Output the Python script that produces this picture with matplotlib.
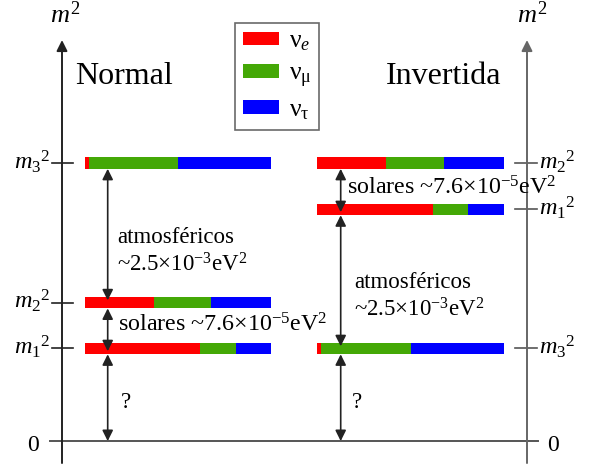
import matplotlib.pyplot as plt
from matplotlib.patches import Patch

plt.rcParams['font.family'] = 'Liberation Serif'
plt.rcParams['mathtext.fontset'] = 'custom'
plt.rcParams['mathtext.rm'] = 'Liberation Serif'
plt.rcParams['mathtext.it'] = 'Liberation Serif:italic'

# flavour content of each mass state (m1, m2, m3)
flavours = ['e', 'mu', 'tau']
nu_e = [0.62, 0.37, 0.02]
nu_mu = [0.19, 0.31, 0.48]
nu_tau = [0.19, 0.32, 0.50]
colors = ['#ff0000', '#44a806', '#0000ff']
legend_labels = [r'$\mathrm{\nu}_{e}$', r'$\mathrm{\nu}_{\mathrm{\mu}}$', r'$\mathrm{\nu}_{\mathrm{\tau}}$']

# schematic m^2 levels for m1, m2, m3 (not to scale)
normal_levels = [0.333, 0.498, 1.0]
inverted_levels = [0.833, 1.0, 0.333]
state_labels = [r'$m_{1}{}^{2}$', r'$m_{2}{}^{2}$', r'$m_{3}{}^{2}$']

solar_text = r'solares ~7.6$\times$10$^{-5}$eV$^{2}$'
atm_text = 'atmosféricos\n~2.5×10$^{-3}$eV$^{2}$'

fig = plt.figure(figsize=(6.01, 4.70), dpi=100)
ax = fig.add_axes([0, 0, 1, 1])
ax.set_xlim(0, 601)
ax.set_ylim(-0.104, 1.586)
ax.axis('off')

bar_h = 0.042


def draw_levels(levels, x0, x1):
    length = x1 - x0
    for i, y in enumerate(levels):
        left = x0
        for frac, c in zip((nu_e[i], nu_mu[i], nu_tau[i]), colors):
            ax.barh(y, frac * length, left=left, height=bar_h, color=c, linewidth=0)
            left += frac * length


def double_arrow(x, y_top, y_bot):
    ax.annotate('', xy=(x, y_bot), xytext=(x, y_top),
                arrowprops=dict(arrowstyle='<|-|>', color='#222222', lw=1.2,
                                mutation_scale=16, shrinkA=0, shrinkB=0))


draw_levels(normal_levels, 85, 271)
draw_levels(inverted_levels, 317, 504)

# axes of the two diagrams
ax.plot([50, 538], [0, 0], color='#555555', lw=1.4)
ax.annotate('', xy=(62, 1.442), xytext=(62, -0.079),
            arrowprops=dict(arrowstyle='-|>', color='#222222', lw=1.4,
                            mutation_scale=16, shrinkA=0, shrinkB=0))
ax.annotate('', xy=(527, 1.442), xytext=(527, -0.079),
            arrowprops=dict(arrowstyle='-|>', color='#666666', lw=1.4,
                            mutation_scale=16, shrinkA=0, shrinkB=0))
ax.text(65, 1.535, r'$m^{2}$', fontsize=19, ha='center', va='center')
ax.text(532, 1.535, r'$m^{2}$', fontsize=19, ha='center', va='center')

for y, lab in zip(normal_levels, state_labels):
    ax.plot([52, 73], [y, y], color='#222222', lw=1.2)
    ax.text(50, y + 0.005, lab, fontsize=17.5, ha='right', va='center')
for y, lab in zip(inverted_levels, state_labels):
    ax.plot([515, 537], [y, y], color='#555555', lw=1.2)
    ax.text(539, y + 0.005, lab, fontsize=17.5, ha='left', va='center')
ax.text(33, -0.016, '0', fontsize=17, ha='center', va='center')
ax.text(553, -0.016, '0', fontsize=17, ha='center', va='center')

ax.text(75, 1.31, 'Normal', fontsize=23, ha='left', va='center')
ax.text(386, 1.31, 'Invertida', fontsize=23, ha='left', va='center')

# normal ordering arrows
double_arrow(107.7, normal_levels[2] - bar_h / 2, normal_levels[1] + 0.008)
double_arrow(107.7, normal_levels[1] - bar_h / 2, normal_levels[0] - 0.01)
double_arrow(107.7, normal_levels[0] - bar_h / 2, 0)
ax.text(117, 0.68, atm_text, fontsize=16.5, ha='left', va='center', linespacing=1.3)
ax.text(118, 0.418, solar_text, fontsize=17.3, ha='left', va='center')
ax.text(126, 0.14, '?', fontsize=16.5, ha='center', va='center')

# inverted ordering arrows
double_arrow(340.7, inverted_levels[1] - bar_h / 2, inverted_levels[0] - 0.01)
double_arrow(340.7, inverted_levels[0] - bar_h / 2, inverted_levels[2] + 0.008)
double_arrow(340.7, inverted_levels[2] - bar_h / 2, 0)
ax.text(354, 0.52, atm_text, fontsize=16.5, ha='left', va='center', linespacing=1.3)
ax.text(347, 0.91, solar_text, fontsize=17.3, ha='left', va='center')
ax.text(357, 0.14, '?', fontsize=16.5, ha='center', va='center')

handles = [Patch(facecolor=c, edgecolor='none') for c in colors]
leg = ax.legend(handles, legend_labels, loc='upper left', bbox_to_anchor=(235 / 601, 1 - 23 / 470),
                fontsize=18.5, frameon=True, fancybox=False, edgecolor='#444444',
                handlelength=1.4, handleheight=0.45, labelspacing=0.38, borderpad=0.3,
                handletextpad=0.4, borderaxespad=0)
leg.get_frame().set_linewidth(1.2)

fig.savefig('out.png', dpi=100)
